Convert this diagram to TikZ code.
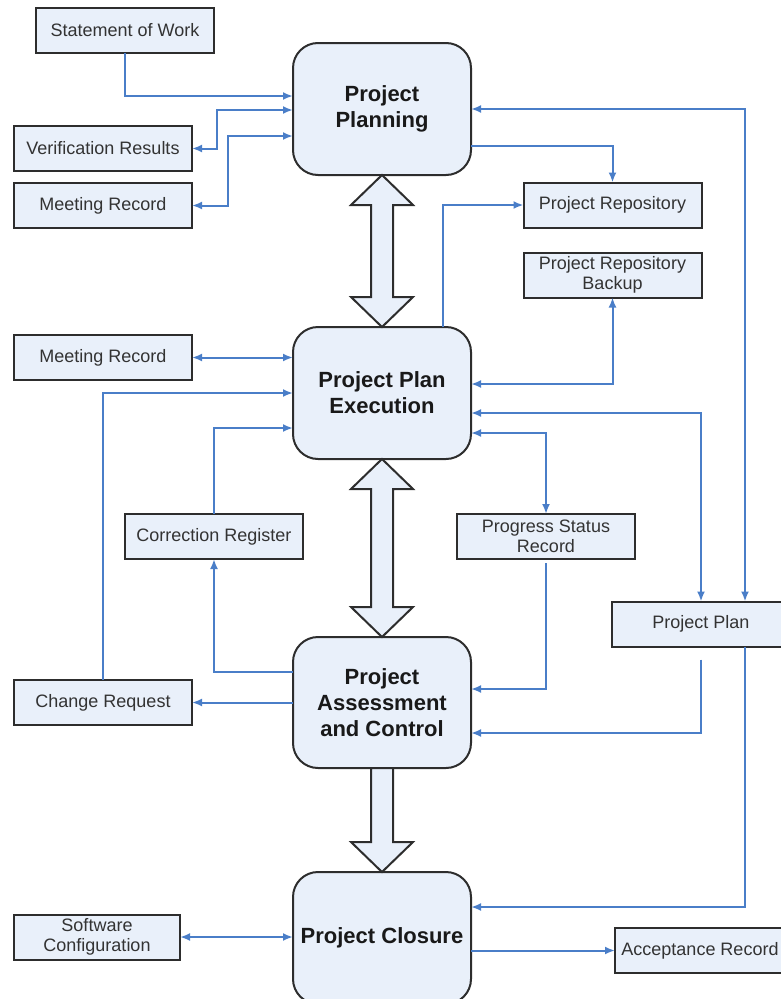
\documentclass[tikz,border=0pt]{standalone}
\usepackage{fontspec}
\setmainfont{Liberation Sans}
\usetikzlibrary{arrows.meta,calc}
\definecolor{boxfill}{RGB}{233,240,250}
\definecolor{boxline}{RGB}{45,45,45}
\definecolor{connblue}{RGB}{74,126,200}
\begin{document}
\begin{tikzpicture}[x=1pt,y=-1pt,
  mainbox/.style={draw=boxline,fill=boxfill,line width=2pt,rounded corners=25pt,
    minimum width=178pt,minimum height=132pt,align=center,
    font=\fontsize{22}{26}\selectfont\bfseries,text=black!90,inner sep=0pt,outer sep=0pt},
  smallbox/.style={draw=boxline,fill=boxfill,line width=2pt,minimum width=178pt,
    minimum height=45pt,align=center,font=\fontsize{18}{20}\selectfont,
    text=black!80,inner sep=0pt,outer sep=0pt},
  link/.style={draw=connblue,line width=2pt,>={Latex[length=10pt,width=8pt]}},
  hollow/.style={draw=boxline,fill=boxfill,line width=2pt,line join=miter}]
\useasboundingbox (0,0) rectangle (780,999);

% main process boxes
\node[mainbox] (plan)   at (382,109) {Project\\Planning};
\node[mainbox] (exec)   at (382,393) {Project Plan\\Execution};
\node[mainbox,minimum height=131pt] (assess) at (382,702.5) {Project\\Assessment\\and Control};
\node[mainbox] (close)  at (382,938) {Project Closure};

% document boxes
\node[smallbox] (sow)    at (125,30.5)  {Statement of Work};
\node[smallbox] (ver)    at (103,148.5) {Verification Results};
\node[smallbox] (mr1)    at (103,205.5) {Meeting Record};
\node[smallbox] (repo)   at (612.5,205) {Project Repository};
\node[smallbox] (backup) at (612.5,275) {Project Repository\\Backup};
\node[smallbox] (mr2)    at (103,357.5) {Meeting Record};
\node[smallbox] (corr)   at (214,536.5) {Correction Register};
\node[smallbox] (prog)   at (546,536.5) {Progress Status\\Record};
\node[smallbox] (pplan)  at (701,624)   {Project Plan};
\node[smallbox] (cr)     at (103,702.5) {Change Request};
\node[smallbox,minimum width=166pt] (swc) at (97,937) {Software\\Configuration};
\node[smallbox,minimum width=170pt] (acc) at (700,950.5) {Acceptance Record};

% hollow block arrows
\draw[hollow] (plan.south) -- ++(31,30) -- ++(-20,0)
  -- ($(exec.north)+(11,-30)$) -- ++(20,0) -- (exec.north) -- ++(-31,-30) -- ++(20,0)
  -- ($(plan.south)+(-11,30)$) -- ++(-20,0) -- cycle;
\draw[hollow] (exec.south) -- ++(31,30) -- ++(-20,0)
  -- ($(assess.north)+(11,-30)$) -- ++(20,0) -- (assess.north) -- ++(-31,-30) -- ++(20,0)
  -- ($(exec.south)+(-11,30)$) -- ++(-20,0) -- cycle;
\draw[hollow] ($(assess.south)+(-11,0)$) -- ++(22,0) -- ($(close.north)+(11,-30)$)
  -- ++(20,0) -- (close.north) -- ++(-31,-30) -- ++(20,0) -- cycle;

% connectors
\draw[link,->] (sow.south) |- (plan.west |- 0,96);
\draw[link,<->] (ver.east) -- ++(25,0) |- (plan.west |- 0,110);
\draw[link,<->] (mr1.east) -- ++(36,0) |- (plan.west |- 0,136);
\draw[link,<->] (pplan.north -| 745,0) |- (plan.east |- 0,109);
\draw[link,->] (plan.east |- 0,146) -| (repo.north);
\draw[link,->] (exec.north -| 443,0) |- (repo.west);
\draw[link,<->] (exec.east |- 0,384) -| (backup.south);
\draw[link,<->] (mr2.east) -- (exec.west |- mr2.east);
\draw[link,->] (cr.north) |- (exec.west |- 0,393);
\draw[link,->] (assess.west |- 0,672) -| (corr.south);
\draw[link,->] (corr.north) |- (exec.west |- 0,428);
\draw[link,->] (assess.west |- cr.east) -- (cr.east);
\draw[link,<->] (exec.east |- 0,433) -| (prog.north);
\draw[link,<->] (exec.east |- 0,413) -| (pplan.north);
\draw[link,->] ($(prog.south)+(0,4)$) |- (assess.east |- 0,689);
\draw[link,->] ($(pplan.south)+(0,13)$) |- (assess.east |- 0,733);
\draw[link,->] (pplan.south -| 745,0) |- (close.east |- 0,907);
\draw[link,<->] (swc.east) -- (close.west |- swc.east);
\draw[link,->] (close.east |- acc.west) -- (acc.west);
\end{tikzpicture}
\end{document}
